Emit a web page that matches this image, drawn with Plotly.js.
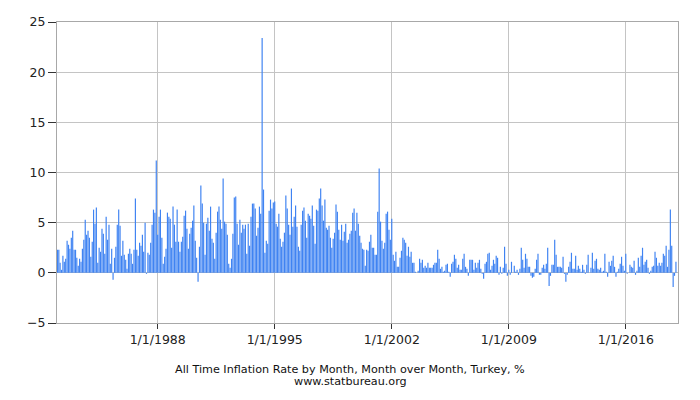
<!DOCTYPE html>
<html>
<head>
<meta charset="utf-8">
<script src="https://cdn.plot.ly/plotly-3.0.1.min.js"></script>
<style>
  html, body { margin: 0; padding: 0; background: #fff; }
  #chart { width: 700px; height: 400px; }
</style>
</head>
<body>
<div id="chart"></div>
<script>
// Monthly CPI change, Turkey, % (month over month), Jan 1982 .. Jan 2019
var startYear = 1982;

var rates1980s = [
  2.3, 2.3, 1.0, 0.3, 1.7, 1.1, 1.4, 3.2, 2.8, 2.4, 3.5, 4.2,   // 1982
  2.3, 2.3, 1.5, 0.7, 1.4, 1.1, 2.4, 3.3, 5.3, 3.8, 4.2, 3.5,   // 1983
  1.6, 3.1, 6.3, 4.9, 6.5, 1.0, 2.5, 2.1, 4.4, 3.9, 1.9, 5.6,   // 1984
  3.3, 4.8, 0.9, 2.4, -0.7, 1.5, 2.6, 4.8, 6.3, 4.7, 1.7, 3.2,  // 1985
  1.8, 1.3, 0.4, 1.9, 2.4, 1.9, 0.9, 2.3, 7.4, 2.3, 1.7, 3.0,   // 1986
  2.7, 3.8, 2.1, 5.0, -0.1, 2.0, 1.8, 3.0, 4.8, 6.3, 6.0, 11.2, // 1987
  3.8, 5.6, 6.3, 3.5, 0.9, 1.6, 2.4, 6.0, 5.6, 5.4, 2.5, 6.6,   // 1988
  4.8, 3.1, 6.3, 3.1, 2.1, 3.1, 3.6, 5.7, 6.2, 4.4, 2.4, 3.9    // 1989
];

var rates1990s = [
  4.5, 5.2, 6.7, 3.2, 1.5, -0.9, 2.6, 8.7, 6.9, 5.0, 1.8, 4.9,  // 1990
  5.5, 4.2, 6.6, 3.4, 3.0, 1.4, 4.0, 6.1, 6.6, 5.3, 4.4, 9.4,   // 1991
  5.1, 4.9, 3.8, 0.9, 0.5, 1.4, 3.9, 7.5, 7.6, 4.9, 2.8, 5.3,   // 1992
  4.0, 4.8, 4.4, 4.8, 1.9, 4.9, 2.7, 5.6, 6.9, 6.9, 6.4, 3.7,   // 1993
  4.5, 6.6, 5.9, 23.4, 8.3, 2.0, 3.2, 2.9, 6.2, 7.3, 6.4, 7.0,  // 1994
  7.1, 4.9, 4.6, 5.9, 3.4, 2.6, 3.1, 4.0, 7.7, 6.4, 4.8, 3.8,   // 1995
  8.4, 4.6, 5.6, 6.7, 4.6, 2.6, 2.2, 4.8, 6.2, 6.5, 5.2, 3.5,   // 1996
  5.9, 5.7, 5.4, 6.7, 4.7, 2.9, 6.3, 6.2, 7.4, 8.4, 6.7, 5.2,   // 1997
  7.3, 4.5, 4.3, 4.7, 3.5, 2.5, 3.4, 4.0, 6.8, 6.1, 4.3, 3.3,   // 1998
  4.8, 3.2, 4.1, 4.9, 3.0, 3.3, 3.9, 4.2, 6.0, 6.4, 4.2, 6.0    // 1999
];

var rates2000s = [
  4.9, 3.7, 3.0, 2.4, 2.3, 0.7, 2.3, 2.2, 3.1, 3.8, 2.5, 2.5,   // 2000
  1.8, 1.8, 6.1, 10.4, 5.1, 3.2, 2.4, 3.0, 5.9, 6.1, 4.3, 3.3,  // 2001
  5.4, 1.8, 1.2, 2.1, 0.6, 0.6, 1.5, 2.2, 3.5, 3.3, 3.0, 1.7,   // 2002
  2.6, 1.6, 2.1, 1.0, 1.0, 0.1, 0.0, 0.2, 1.4, 1.0, 1.3, 0.5,   // 2003
  0.7, 0.5, 1.0, 0.5, 0.5, 0.5, 0.8, 1.0, 1.0, 2.3, 1.4, 0.4,   // 2004
  0.6, 0.1, 0.2, 0.8, 0.9, 0.1, -0.4, 0.9, 1.1, 1.8, 1.4, 0.5,  // 2005
  0.8, 0.3, 0.3, 1.4, 1.9, 0.6, 0.4, -0.3, 1.3, 1.3, 1.3, 0.3,  // 2006
  1.0, 0.5, 1.0, 1.3, 0.4, -0.1, -0.6, 0.9, 1.1, 1.9, 2.0, 0.3, // 2007
  0.7, 1.3, 0.9, 1.7, 1.5, -0.2, 0.6, -0.1, 0.5, 2.6, 0.9, -0.3, // 2008
  0.3, -0.2, 1.1, 0.0, 0.7, 0.1, 0.3, -0.2, 0.4, 2.5, 1.3, 0.5  // 2009
];

var rates2010s = [
  1.9, 1.4, 0.6, 0.6, -0.3, -0.5, -0.4, 0.4, 1.3, 1.9, -0.2, -0.2, // 2010
  0.5, 0.8, 0.4, 0.9, 2.5, -1.3, -0.3, 0.8, 0.8, 3.3, 1.8, 0.6,    // 2011
  0.6, 0.6, 0.5, 1.6, -0.1, -0.9, -0.2, 0.6, 1.1, 2.0, 0.4, 0.4,   // 2012
  1.7, 0.3, 0.7, 0.4, 0.1, 0.8, 0.3, -0.1, 0.8, 1.8, 0.0, 0.5,     // 2013
  2.0, 0.4, 1.2, 1.4, 0.4, 0.3, 0.5, 0.1, 0.2, 1.9, 0.1, -0.4,     // 2014
  1.1, 0.7, 1.2, 1.7, 0.6, -0.4, 0.1, 0.4, 0.9, 1.6, 0.7, 0.2,     // 2015
  1.9, -0.1, 0.0, 0.8, 0.6, 0.5, 1.2, -0.2, 0.2, 1.5, 0.6, 1.7,    // 2016
  2.5, 0.8, 1.1, 1.3, 0.5, -0.1, 0.2, 0.6, 0.7, 2.1, 1.5, 0.7,     // 2017
  1.0, 0.7, 1.0, 1.9, 1.7, 2.7, 0.6, 2.3, 6.3, 2.7, -1.4, -0.3,    // 2018
  1.1                                                              // 2019
];

var tickYears = [1988, 1995, 2002, 2009, 2016];
var chartTitle = 'All Time Inflation Rate by Month, Month over Month, Turkey, %';
var chartSource = 'www.statbureau.org';

var rates = [].concat(rates1980s, rates1990s, rates2000s, rates2010s);
var months = rates.map(function (v, i) {
  var y = startYear + Math.floor(i / 12);
  var m = (i % 12) + 1;
  return y + '-' + (m < 10 ? '0' : '') + m + '-01';
});

var font = 'DejaVu Sans, Verdana, sans-serif';

var trace = {
  type: 'bar',
  x: months,
  y: rates,
  marker: { color: '#3F83F2', line: { width: 0 } },
  hoverinfo: 'x+y'
};

var layout = {
  width: 700,
  height: 400,
  margin: { l: 57, r: 22, t: 22, b: 77 },
  paper_bgcolor: '#fff',
  plot_bgcolor: '#fff',
  bargap: 0.08,
  showlegend: false,
  font: { family: font, size: 12.5, color: '#222' },
  xaxis: {
    type: 'date',
    range: ['1981-12-23', '2019-02-15'],
    tickmode: 'array',
    tickvals: tickYears.map(function (y) { return y + '-01-01'; }),
    ticktext: tickYears.map(function (y) { return '1/1/' + y; }),
    ticks: 'outside',
    ticklen: 5,
    tickcolor: '#333',
    showgrid: true,
    gridcolor: '#c4c4c4',
    gridwidth: 1,
    showline: true,
    linecolor: '#a8a8a8',
    mirror: true,
    zeroline: false
  },
  yaxis: {
    range: [-5, 25],
    tickvals: [-5, 0, 5, 10, 15, 20, 25],
    ticks: 'outside',
    ticklen: 8,
    tickcolor: '#333',
    showgrid: true,
    gridcolor: '#c4c4c4',
    gridwidth: 1,
    showline: true,
    linecolor: '#a8a8a8',
    mirror: true,
    zeroline: false
  },
  annotations: [
    {
      text: chartTitle, xref: 'paper', yref: 'paper', x: 0.472, y: -0.153,
      xanchor: 'center', yanchor: 'middle', showarrow: false,
      font: { family: font, size: 11.2, color: '#111' }
    },
    {
      text: chartSource, xref: 'paper', yref: 'paper', x: 0.472, y: -0.195,
      xanchor: 'center', yanchor: 'middle', showarrow: false,
      font: { family: font, size: 11.2, color: '#111' }
    }
  ]
};

Plotly.newPlot('chart', [trace], layout, { staticPlot: true, displayModeBar: false });
</script>
</body>
</html>
